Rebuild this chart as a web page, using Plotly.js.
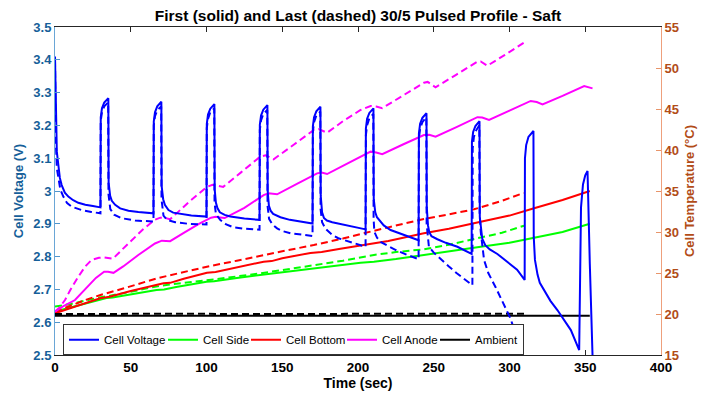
<!DOCTYPE html>
<html>
<head>
<meta charset="utf-8">
<script src="https://cdn.plot.ly/plotly-3.0.1.min.js"></script>
<style>html,body{margin:0;padding:0;background:#fff;}#chart{width:704px;height:401px;}</style>
</head>
<body>
<div id="chart"></div>
<script>
// ---------- Data ----------
// Cell voltage, first run (solid)
const voltFirstTime = [
  0, 0.6, 1.2, 2.2, 3.2, 4.4, 6.5, 8.8, 12, 15.4, 20, 25, 30,
  30.2, 31, 32.5, 35.2,
  35.4, 36.4, 37.5, 39.7, 43, 48.5, 55, 65,
  65.2, 66, 67.5, 70.2,
  70.4, 71.4, 72.5, 74.9, 78, 83.7, 90, 100,
  100.2, 101, 102.5, 105.2,
  105.4, 106.2, 107.2, 108.8, 112, 115.7, 125, 135,
  135.2, 136, 137.5, 140.2,
  140.4, 141.2, 142.3, 144, 148.8, 155, 162, 170,
  170.2, 171, 172.5, 175.2,
  175.4, 176.3, 177.5, 179.5, 183, 188.4, 196, 205,
  205.2, 206, 207.5, 210.2,
  210.4, 211.4, 212.5, 213.8, 217, 221.5, 230, 240,
  240.2, 241, 242.5, 245.2,
  245.4, 246.2, 247, 248.5, 252.4, 258, 265.6, 275,
  275.2, 276, 277.5, 280.2,
  280.4, 281.2, 282, 284, 287, 292, 300, 305, 310,
  310.2, 311, 312.5, 315.8,
  316, 316.8, 318.5, 320, 322.8, 327, 331.6, 336, 340.5, 346,
  346.6, 347.2, 348.5, 350, 351.5, 352, 353, 354.8, 355.3
];
const voltFirst = [
  3.41, 3.18, 3.12, 3.08, 3.04, 3.018, 2.995, 2.983, 2.972, 2.964, 2.958, 2.954, 2.950,
  3.225, 3.252, 3.270, 3.283,
  3.025, 2.985, 2.970, 2.958, 2.947, 2.940, 2.936, 2.932,
  3.212, 3.240, 3.258, 3.272,
  3.015, 2.975, 2.958, 2.942, 2.934, 2.929, 2.925, 2.922,
  3.205, 3.233, 3.251, 3.265,
  3.005, 2.965, 2.948, 2.935, 2.927, 2.922, 2.916, 2.912,
  3.202, 3.230, 3.248, 3.262,
  2.998, 2.955, 2.940, 2.930, 2.920, 2.912, 2.906, 2.901,
  3.197, 3.225, 3.243, 3.257,
  2.985, 2.935, 2.918, 2.910, 2.905, 2.900, 2.892, 2.883,
  3.190, 3.220, 3.238, 3.252,
  2.975, 2.935, 2.920, 2.912, 2.895, 2.881, 2.866, 2.850,
  3.175, 3.205, 3.223, 3.237,
  2.950, 2.895, 2.875, 2.862, 2.853, 2.842, 2.830, 2.808,
  3.150, 3.180, 3.198, 3.213,
  2.920, 2.880, 2.855, 2.835, 2.822, 2.808, 2.780, 2.760, 2.729,
  3.100, 3.140, 3.165, 3.183,
  2.860, 2.790, 2.745, 2.720, 2.698, 2.665, 2.637, 2.605, 2.576, 2.515,
  2.750, 2.950, 3.020, 3.048, 3.061, 2.950, 2.780, 2.500, 2.440
];
// Cell voltage, last run (dashed)
const voltLastTime = [
  0, 0.5, 1.2, 2.2, 3.5, 5.5, 8, 11, 17.6, 24, 30,
  30.2, 31, 32.5, 35.1,
  35.3, 36.5, 39, 44, 52.9, 65,
  65.2, 66, 67.5, 70.1,
  70.3, 71.6, 74, 79.3, 88, 100,
  100.2, 101, 102.5, 105.1,
  105.3, 106.2, 109, 113, 117.9, 125, 135,
  135.2, 136, 137.5, 140.1,
  140.3, 141.3, 143.5, 146.6, 150, 155.4, 162, 170,
  170.2, 171, 172.5, 175.1,
  175.3, 176.3, 178.5, 183, 187, 192.9, 198, 205,
  205.2, 206, 207.5, 210.1,
  210.3, 210.8, 212.5, 214.9, 220, 225, 232, 240,
  240.2, 241, 242.5, 245.1,
  245.3, 246, 246.8, 250, 255, 260, 265, 270, 275.5,
  275.7, 276.5, 278, 280.1,
  280.3, 281, 283.2, 286, 291, 296, 300.8, 306.3, 309.5
];
const voltLast = [
  3.40, 3.16, 3.07, 3.035, 3.005, 2.983, 2.963, 2.952, 2.942, 2.936, 2.932,
  3.215, 3.240, 3.258, 3.270,
  2.990, 2.945, 2.928, 2.917, 2.910, 2.907,
  3.200, 3.228, 3.246, 3.258,
  2.975, 2.925, 2.912, 2.905, 2.900, 2.898,
  3.192, 3.220, 3.240, 3.252,
  2.965, 2.930, 2.912, 2.898, 2.889, 2.885, 2.882,
  3.186, 3.215, 3.235, 3.247,
  2.955, 2.915, 2.898, 2.886, 2.878, 2.871, 2.867, 2.863,
  3.180, 3.210, 3.230, 3.242,
  2.945, 2.905, 2.885, 2.866, 2.856, 2.848, 2.840, 2.830,
  3.170, 3.200, 3.222, 3.235,
  2.915, 2.876, 2.858, 2.845, 2.832, 2.820, 2.806, 2.792,
  3.160, 3.190, 3.210, 3.225,
  2.900, 2.855, 2.830, 2.812, 2.790, 2.770, 2.750, 2.732, 2.713,
  3.130, 3.165, 3.185, 3.200,
  2.930, 2.876, 2.790, 2.750, 2.705, 2.655, 2.610, 2.530, 2.470
];
// Cell side temperature (°C)
const sideFirstTime = [0, 10, 20, 30, 34, 38, 50, 67, 72, 80, 100, 105, 120, 135.5, 141, 150, 170.8, 176, 188.4, 201.7, 210.5, 225, 243.5, 260, 281, 300, 316, 335, 353];
const sideFirst     = [20.3, 20.8, 21.3, 21.8, 21.95, 22.0, 22.4, 22.93, 23.0, 23.3, 23.94, 24.0, 24.4, 24.76, 24.82, 25.1, 25.57, 25.62, 25.9, 26.26, 26.38, 26.7, 27.2, 27.6, 28.2, 28.7, 29.3, 30.0, 31.0];
const sideLastTime  = [0, 10, 26.4, 40, 50, 66, 80, 105.8, 120, 132.2, 150, 170, 190, 210.5, 225, 243.5, 260, 276.6, 295, 309.6];
const sideLast      = [20.9, 21.2, 21.9, 22.35, 22.7, 23.33, 23.7, 24.23, 24.55, 24.88, 25.35, 25.9, 26.5, 27.2, 27.55, 27.89, 28.45, 29.15, 29.9, 30.77];
// Cell bottom temperature (°C)
const bottomFirstTime = [0, 10, 20, 29.8, 36, 40, 50, 71.6, 76, 85, 100.3, 106, 120, 137.7, 143, 150, 168.6, 176, 188.4, 201.7, 220, 243.5, 260, 281, 300, 316.2, 335, 353];
const bottomFirst     = [20.08, 20.7, 21.3, 21.91, 22.1, 22.3, 22.8, 23.74, 23.8, 24.3, 25.04, 25.12, 25.7, 26.38, 26.45, 26.8, 27.45, 27.55, 27.95, 28.35, 28.9, 29.84, 30.4, 31.26, 32.0, 32.89, 33.9, 35.0];
const bottomLastTime  = [0, 10, 20, 30, 45, 67.2, 85, 100.3, 120, 135.5, 150, 170.8, 190, 210.5, 225, 243.5, 260, 276.6, 295, 309.4];
const bottomLast      = [20.28, 21.0, 21.7, 22.32, 23.1, 24.35, 25.1, 25.77, 26.5, 27.12, 27.65, 28.41, 29.2, 30.15, 30.8, 31.59, 32.15, 32.77, 33.8, 34.76];
// Cell anode temperature (°C)
const anodeFirstTime = [0, 5, 13.2, 20, 27, 32.4, 35, 38.6, 45, 55, 66, 70.5, 73, 76, 85, 95, 103, 106, 109, 112, 125, 137.7, 141, 144, 146.6, 160, 173, 176, 179.6, 190, 201.7, 208.3, 212, 216, 230, 243.5, 247, 251.2, 265, 278.8, 282, 286.5, 300, 314, 318, 321.8, 335, 349.3, 354.8];
const anodeFirst     = [20.3, 20.9, 21.7, 23.0, 24.4, 25.16, 25.15, 25.02, 25.8, 27.2, 28.6, 28.94, 28.95, 28.88, 29.9, 31.0, 31.75, 31.87, 31.78, 31.7, 32.95, 34.5, 34.72, 34.68, 34.6, 35.9, 37.15, 37.24, 37.07, 38.07, 39.2, 39.8, 39.7, 39.5, 40.7, 41.83, 41.85, 41.63, 42.8, 44.0, 43.95, 43.66, 44.8, 45.98, 45.85, 45.57, 46.6, 47.8, 47.52];
const anodeLastTime  = [0, 3, 6.6, 10, 15.4, 20, 24.2, 29, 32, 35, 38.3, 44, 50.7, 58, 66, 69.5, 73, 76, 88, 100.3, 104, 108, 111, 123, 135.5, 139, 144.3, 158, 170.8, 174, 179.6, 190, 201.7, 208.3, 212, 216, 230, 243.5, 246, 251.2, 265, 278.8, 281, 285.4, 297, 309.6];
const anodeLast      = [20.3, 20.8, 21.7, 22.9, 24.55, 25.8, 26.6, 26.85, 26.9, 26.8, 26.75, 27.8, 29.0, 30.3, 31.5, 31.75, 31.7, 31.55, 33.6, 35.5, 35.75, 35.6, 35.5, 37.3, 39.2, 39.35, 38.87, 40.7, 42.44, 42.55, 42.1, 43.5, 44.88, 45.37, 45.3, 45.1, 46.7, 48.2, 48.3, 47.65, 49.2, 50.77, 50.8, 50.28, 51.6, 53.09];
// Ambient temperature (°C)
const ambientFirstTime = [0, 50, 100, 150, 200, 250, 300, 353];
const ambientFirst     = [19.8, 19.8, 19.79, 19.8, 19.8, 19.79, 19.8, 19.8];
const ambientLastTime  = [0, 30, 60, 90, 120, 150, 180, 210, 240, 270, 300, 310];
const ambientLast      = [20.0, 20.03, 19.98, 20.03, 20.0, 20.02, 20.0, 20.03, 20.01, 20.04, 20.06, 20.04];

// Axis ticks
const xTicks = [0, 50, 100, 150, 200, 250, 300, 350, 400];
const voltTicks = [2.5, 2.6, 2.7, 2.8, 2.9, 3.0, 3.1, 3.2, 3.3, 3.4, 3.5];
const voltTickText = ['2.5', '2.6', '2.7', '2.8', '2.9', '3', '3.1', '3.2', '3.3', '3.4', '3.5'];
const tempTicks = [15, 20, 25, 30, 35, 40, 45, 50, 55];

// ---------- Plot ----------
const BLUE = '#0000ff', GREEN = '#00ff00', RED = '#ff0000', MAG = '#ff00ff', BLACK = '#000000';
const DASH = '7px,4px';
const FONT = 'Arial, "Liberation Sans", sans-serif';

function tr(x, y, name, color, dashed, axis, show, lw) {
  const t = {
    x: x, y: y, name: name, type: 'scatter', mode: 'lines',
    yaxis: axis, showlegend: show, hoverinfo: 'skip',
    line: {color: color, width: 2, dash: dashed ? DASH : 'solid'}
  };
  if (lw) t.legendwidth = lw;
  return t;
}

const data = [
  tr(voltFirstTime, voltFirst, 'Cell Voltage', BLUE, false, 'y2', true, 54),
  tr(voltLastTime, voltLast, 'Cell Voltage (last)', BLUE, true, 'y2', false),
  tr(sideFirstTime, sideFirst, 'Cell Side', GREEN, false, 'y', true, 38),
  tr(sideLastTime, sideLast, 'Cell Side (last)', GREEN, true, 'y', false),
  tr(bottomFirstTime, bottomFirst, 'Cell Bottom', RED, false, 'y', true, 51),
  tr(bottomLastTime, bottomLast, 'Cell Bottom (last)', RED, true, 'y', false),
  tr(anodeFirstTime, anodeFirst, 'Cell Anode', MAG, false, 'y', true, 48),
  tr(anodeLastTime, anodeLast, 'Cell Anode (last)', MAG, true, 'y', false),
  tr(ambientFirstTime, ambientFirst, 'Ambient', BLACK, false, 'y', true),
  tr(ambientLastTime, ambientLast, 'Ambient (last)', BLACK, true, 'y', false)
];
const order = {'Cell Voltage': 1, 'Cell Side': 2, 'Cell Bottom': 3, 'Cell Anode': 4, 'Ambient': 5};
data.forEach(d => { if (order[d.name]) d.legendrank = order[d.name]; });

const layout = {
  width: 704, height: 401,
  margin: {l: 55, r: 43, t: 27, b: 46, pad: 0},
  paper_bgcolor: '#ffffff', plot_bgcolor: '#ffffff',
  font: {family: FONT, size: 12, color: '#000'},
  title: {
    text: 'First (solid) and Last (dashed) 30/5 Pulsed Profile - Saft',
    font: {family: FONT, size: 15.5, weight: 'bold', color: '#000'},
    x: 0.5, xref: 'paper', xanchor: 'center', y: 0.962, yref: 'container', yanchor: 'middle'
  },
  xaxis: {
    range: [0, 400], tickvals: xTicks, ticks: 'inside', ticklen: 5, tickwidth: 1, tickcolor: '#262626',
    showline: true, linecolor: '#262626', linewidth: 1, mirror: 'ticks',
    showgrid: false, zeroline: false,
    tickfont: {family: FONT, size: 13.5, weight: 'bold', color: '#000'},
    title: {text: 'Time (sec)', font: {family: FONT, size: 14, weight: 'bold', color: '#000'}, standoff: 3}
  },
  yaxis: {
    range: [15, 55], tickvals: tempTicks, side: 'right', ticks: 'inside', ticklen: 5, tickwidth: 1,
    tickcolor: '#e8956a', showline: true, linecolor: '#eea07c', linewidth: 1,
    showgrid: false, zeroline: false,
    tickfont: {family: FONT, size: 13, weight: 'bold', color: '#b24c17'},
    title: {text: 'Cell Temperature (°C)', font: {family: FONT, size: 13, weight: 'bold', color: '#b24c17'}, standoff: 6}
  },
  yaxis2: {
    range: [2.5, 3.5], tickvals: voltTicks, ticktext: voltTickText, side: 'left', overlaying: 'y',
    ticks: 'inside', ticklen: 5, tickwidth: 1, tickcolor: '#4f95cc',
    showline: true, linecolor: '#6aa6d6', linewidth: 1,
    showgrid: false, zeroline: false,
    tickfont: {family: FONT, size: 13, weight: 'bold', color: '#165f99'},
    title: {text: 'Cell Voltage (V)', font: {family: FONT, size: 13, weight: 'bold', color: '#165f99'}, standoff: 6}
  },
  legend: {
    orientation: 'h', x: 0.0132, xanchor: 'left', y: 0.094, yanchor: 'top',
    bgcolor: '#ffffff', bordercolor: '#333333', borderwidth: 1,
    font: {family: FONT, size: 11.5, color: '#000'},
    itemwidth: 30, tracegroupgap: 0
  },
  showlegend: true
};

Plotly.newPlot('chart', data, layout, {staticPlot: true, displayModeBar: false});
</script>
</body>
</html>
